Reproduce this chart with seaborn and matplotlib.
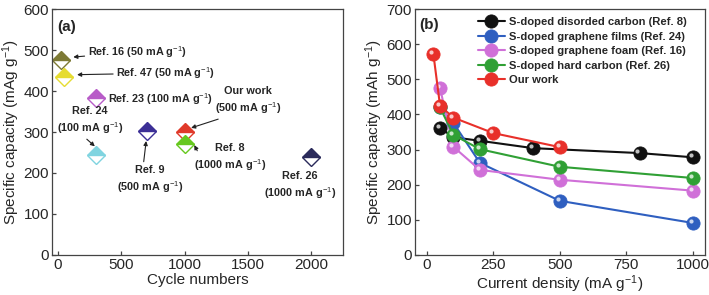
import numpy as np
import pandas as pd
import matplotlib
matplotlib.use('Agg')
import matplotlib.pyplot as plt
import matplotlib.transforms as mtransforms
import seaborn as sns

# panel (a): capacity vs cycle number for different refs
refs = ['Ref. 16', 'Ref. 47', 'Ref. 23', 'Ref. 24', 'Ref. 9', 'Our work', 'Ref. 8', 'Ref. 26']
cycles = [25, 50, 300, 300, 700, 1000, 1000, 2000]
caps = [477, 435, 382, 244, 303, 300, 270, 240]
ref_colors = ['#7d7a35', '#e6dc32', '#b85cc8', '#80d4e0', '#3c2f96', '#e03a2a', '#66c81e', '#2a2a5a']

# panel (b): rate performance
series_names = ['S-doped disorded carbon (Ref. 8)', 'S-doped graphene films (Ref. 24)',
                'S-doped graphene foam (Ref. 16)', 'S-doped hard carbon (Ref. 26)', 'Our work']
black_x = [50, 100, 200, 400, 800, 1000]
black_y = [362, 335, 325, 304, 290, 278]
blue_x = [50, 100, 200, 500, 1000]
blue_y = [420, 376, 262, 154, 91]
pink_x = [50, 100, 200, 500, 1000]
pink_y = [475, 308, 242, 214, 183]
green_x = [50, 100, 200, 500, 1000]
green_y = [420, 342, 301, 251, 219]
red_x = [25, 50, 100, 250, 500]
red_y = [572, 425, 391, 347, 307]
series_x = [black_x, blue_x, pink_x, green_x, red_x]
series_y = [black_y, blue_y, pink_y, green_y, red_y]
series_colors = ['#111111', '#2f5fc0', '#d070d8', '#30a035', '#e8302a']

sns.set_style('ticks')
plt.rcParams['font.family'] = ['Liberation Sans', 'DejaVu Sans']
plt.rcParams['mathtext.fontset'] = 'custom'
plt.rcParams['mathtext.rm'] = 'Liberation Sans'
plt.rcParams['mathtext.bf'] = 'Liberation Sans:bold'
plt.rcParams['mathtext.it'] = 'Liberation Sans:italic'

fig = plt.figure(figsize=(7.09, 2.95), dpi=100)
ax1 = fig.add_axes([0.073, 0.136, 0.411, 0.833])
ax2 = fig.add_axes([0.585, 0.136, 0.409, 0.833])

for ax in (ax1, ax2):
    for sp in ax.spines.values():
        sp.set_color('#444444')
        sp.set_linewidth(0.9)
    ax.tick_params(direction='in', length=3, width=0.9, color='#444444', labelsize=11, pad=2)

# ---- panel a ----
for x, y, c in zip(cycles, caps, ref_colors):
    ax1.plot([x], [y], linestyle='', marker='D', markersize=9.5, fillstyle='top',
             markerfacecolor=c, markerfacecoloralt='white', markeredgecolor=c,
             markeredgewidth=1.0)

ax1.set_xlim(-50, 2250)
ax1.set_ylim(0, 600)
ax1.set_xticks([0, 500, 1000, 1500, 2000])
ax1.set_yticks([0, 100, 200, 300, 400, 500, 600])
ax1.set_xlabel('Cycle numbers', fontsize=11, labelpad=1)
ax1.set_ylabel('Specific capacity (mAg g$^{-1}$)', fontsize=11, labelpad=1)
ax1.text(0.02, 0.955, '(a)', transform=ax1.transAxes, fontsize=11, fontweight='bold', va='top')

fs = 7.8
ls = 1.35
arrow = dict(arrowstyle='-|>', color='#222222', lw=0.8, mutation_scale=6, shrinkA=0, shrinkB=0)
ax1.annotate('Ref. 16 (50 mA g$^{-1}$)', xy=(120, 483), xytext=(235, 496),
             fontsize=fs, fontweight='bold', va='center', ha='left', arrowprops=arrow)
ax1.annotate('Ref. 47 (50 mA g$^{-1}$)', xy=(150, 440), xytext=(460, 444),
             fontsize=fs, fontweight='bold', va='center', ha='left', arrowprops=arrow)
ax1.text(390, 380, 'Ref. 23 (100 mA g$^{-1}$)', fontsize=fs, fontweight='bold', va='center', ha='left')
ax1.annotate('Ref. 24\n(100 mA g$^{-1}$)', xy=(290, 265), xytext=(250, 327),
             fontsize=fs, fontweight='bold', va='center', ha='center', linespacing=ls,
             arrowprops=dict(arrow, relpos=(0.4, 0.0)))
ax1.annotate('Ref. 9\n(500 mA g$^{-1}$)', xy=(695, 278), xytext=(725, 183),
             fontsize=fs, fontweight='bold', va='center', ha='center', linespacing=ls,
             arrowprops=dict(arrow, relpos=(0.4, 1.0)))
ax1.annotate('Our work\n(500 mA g$^{-1}$)', xy=(1050, 310), xytext=(1500, 376),
             fontsize=fs, fontweight='bold', va='center', ha='center', linespacing=ls,
             arrowprops=dict(arrow, relpos=(0.2, 0.0)))
ax1.annotate('Ref. 8\n(1000 mA g$^{-1}$)', xy=(1075, 268), xytext=(1355, 236),
             fontsize=fs, fontweight='bold', va='center', ha='center', linespacing=ls,
             arrowprops=dict(arrow, relpos=(0.05, 0.75)))
ax1.text(1907, 168, 'Ref. 26\n(1000 mA g$^{-1}$)', fontsize=fs, fontweight='bold',
         va='center', ha='center', linespacing=ls)

# ---- panel b ----
hl = mtransforms.offset_copy(ax2.transData, fig=fig, x=-1.5, y=1.5, units='points')
for name, xs, ys, c in zip(series_names, series_x, series_y, series_colors):
    df = pd.DataFrame({'x': xs, 'y': ys})
    sns.lineplot(data=df, x='x', y='y', ax=ax2, color=c, linewidth=1.5, marker='o',
                 markersize=9.5, markeredgecolor=c, markeredgewidth=0.6, label=name,
                 sort=False, estimator=None)
    ax2.plot(xs, ys, linestyle='', marker='o', markersize=3, color='white', alpha=0.75,
             markeredgewidth=0, transform=hl)

ax2.set_xlim(-45, 1045)
ax2.set_ylim(0, 700)
ax2.set_xticks([0, 250, 500, 750, 1000])
ax2.set_yticks([0, 100, 200, 300, 400, 500, 600, 700])
ax2.set_xlabel('Current density (mA g$^{-1}$)', fontsize=11, labelpad=1)
ax2.set_ylabel('Specific capacity (mAh g$^{-1}$)', fontsize=11, labelpad=1)
ax2.text(0.017, 0.965, '(b)', transform=ax2.transAxes, fontsize=11, fontweight='bold', va='top')
leg = ax2.legend(loc='upper left', bbox_to_anchor=(0.19, 1.0), frameon=False,
                 prop={'weight': 'bold', 'size': 8.1}, handlelength=2.4,
                 labelspacing=0.4, handletextpad=0.4, borderaxespad=0.3)

fig.savefig('out.png', dpi=100)
plt.close(fig)
